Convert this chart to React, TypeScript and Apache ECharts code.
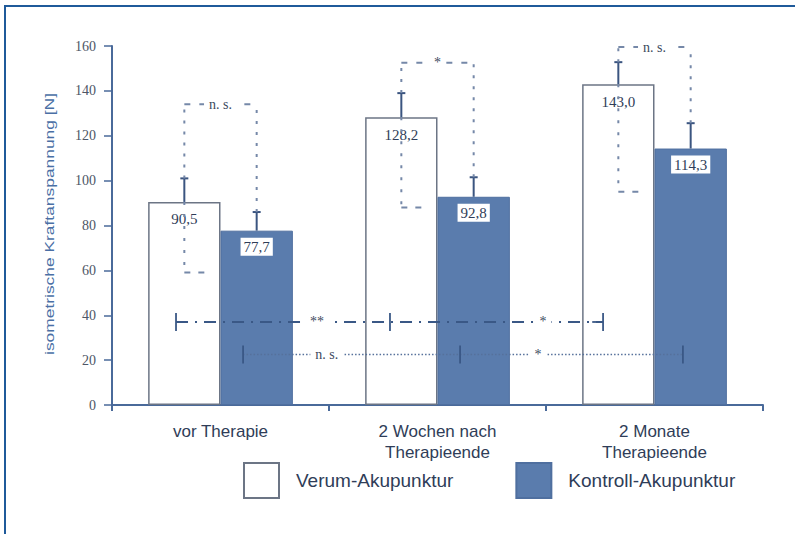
import React, { useEffect, useRef } from 'react';
import * as echarts from 'echarts';

// Zeitpunkte und Gruppen
const categories = ['vor Therapie', '2 Wochen nach\nTherapieende', '2 Monate\nTherapieende'];
const seriesNames = ['Verum-Akupunktur', 'Kontroll-Akupunktur'];

// Mittelwerte der isometrischen Kraftanspannung [N]
const verumMeans = [90.5, 128.2, 143.0];
const kontrollMeans = [77.7, 92.8, 114.3];

// Streuung: obere Fehlerbalken und untere Grenze (Verum)
const verumUpper = [101, 139, 152.8];
const kontrollUpper = [86, 101.5, 125.6];
const verumLower = [59, 88, 95];

// Gruppenvergleich je Zeitpunkt
const groupBracketLevel = [134, 152.5, 159.5];
const groupBracketText = ['n. s.', '*', 'n. s.'];

// Verlaufsvergleiche über die Zeitpunkte
const verumTrendLevel = 37;
const verumTrendText = ['**', '*'];
const kontrollTrendLevel = 22.5;
const kontrollTrendText = ['n. s.', '*'];

// Achse
const yMin = 0;
const yMax = 160;
const yStep = 20;

// Lage innerhalb einer Kategorie (Kategoriebreite = 1)
const VERUM_POS = 1 / 3;
const KONTROLL_POS = 2 / 3;
const verumTrendAnchors = [0.295, 1.281, 2.263];
const verumTrendTextPos = [0.945, 1.986];
const kontrollTrendAnchors = [0.604, 1.604, 2.631];
const kontrollTrendTextPos = [0.99, 1.963];

const BLUE = '#5a7cad';
const DARK = '#3b5580';
const TEXT = '#2f3d58';

type Seg = { value: number[]; kind: string };
type Txt = { value: number[]; text: string; kind: string };

function buildSegments(): Seg[] {
  const segs: Seg[] = [];
  categories.forEach((_, i) => {
    const xv = i + VERUM_POS;
    const xk = i + KONTROLL_POS;
    // Fehlerbalken
    segs.push({ value: [xv, verumMeans[i], xv, verumUpper[i]], kind: 'whisker' });
    segs.push({ value: [xv, verumUpper[i], xv, verumUpper[i]], kind: 'cap' });
    segs.push({ value: [xk, kontrollMeans[i], xk, kontrollUpper[i]], kind: 'whisker' });
    segs.push({ value: [xk, kontrollUpper[i], xk, kontrollUpper[i]], kind: 'cap' });
    // Klammer Verum vs. Kontrolle
    segs.push({ value: [xv, verumUpper[i], xv, groupBracketLevel[i]], kind: 'upper' });
    segs.push({ value: [xk, kontrollUpper[i], xk, groupBracketLevel[i]], kind: 'upper' });
    segs.push({ value: [xv, groupBracketLevel[i], xk, groupBracketLevel[i]], kind: 'bracket' });
    // untere Streuung Verum
    segs.push({ value: [xv, verumMeans[i], xv, verumLower[i]], kind: 'lower' });
    segs.push({ value: [xv, verumLower[i], xv + 0.12, verumLower[i]], kind: 'lowerTick' });
  });
  // Verlauf Verum
  segs.push({
    value: [verumTrendAnchors[0], verumTrendLevel, verumTrendAnchors[2], verumTrendLevel],
    kind: 'trendV',
  });
  verumTrendAnchors.forEach((x) =>
    segs.push({ value: [x, verumTrendLevel, x, verumTrendLevel], kind: 'trendCap' })
  );
  segs.push({
    value: [verumTrendAnchors[0], verumTrendLevel, verumTrendAnchors[0] + 0.05, verumTrendLevel],
    kind: 'trendStub',
  });
  segs.push({
    value: [verumTrendAnchors[2] - 0.05, verumTrendLevel, verumTrendAnchors[2], verumTrendLevel],
    kind: 'trendStub',
  });
  // Verlauf Kontrolle
  segs.push({
    value: [kontrollTrendAnchors[0], kontrollTrendLevel, kontrollTrendAnchors[2], kontrollTrendLevel],
    kind: 'trendK',
  });
  kontrollTrendAnchors.forEach((x) =>
    segs.push({ value: [x, kontrollTrendLevel, x, kontrollTrendLevel], kind: 'trendCap' })
  );
  return segs;
}

function buildTexts(): Txt[] {
  const txts: Txt[] = [];
  categories.forEach((_, i) => {
    txts.push({
      value: [i + 0.5, groupBracketLevel[i]],
      text: groupBracketText[i],
      kind: 'bracket',
    });
  });
  verumTrendText.forEach((t, j) =>
    txts.push({ value: [verumTrendTextPos[j], verumTrendLevel], text: t, kind: 'trend' })
  );
  kontrollTrendText.forEach((t, j) =>
    txts.push({ value: [kontrollTrendTextPos[j], kontrollTrendLevel], text: t, kind: 'trend' })
  );
  return txts;
}

const segStyles: Record<string, any> = {
  whisker: { stroke: DARK, lineWidth: 2 },
  cap: { stroke: DARK, lineWidth: 2 },
  upper: { stroke: '#7588a8', lineWidth: 2, lineDash: [3, 8] },
  bracket: { stroke: '#7588a8', lineWidth: 2, lineDash: [6, 9] },
  lower: { stroke: '#7588a8', lineWidth: 2, lineDash: [3, 9] },
  lowerTick: { stroke: '#7588a8', lineWidth: 2, lineDash: [6, 8] },
  trendV: { stroke: '#3a5886', lineWidth: 1.8, lineDash: [12, 7, 2, 7] },
  trendStub: { stroke: '#3a5886', lineWidth: 1.8 },
  trendK: { stroke: '#56719b', lineWidth: 1.3, lineDash: [1.5, 2] },
  trendCap: { stroke: '#3a5886', lineWidth: 1.8 },
};

const fmt = (v: number) => v.toFixed(1).replace('.', ',');

export default function App() {
  const ref = useRef<HTMLDivElement>(null);

  useEffect(() => {
    if (!ref.current) return;
    const chart = echarts.init(ref.current, undefined, { renderer: 'svg' });
    const segments = buildSegments();
    const texts = buildTexts();

    const valueLabel = {
      show: true,
      position: 'insideTop',
      distance: 10,
      fontFamily: '"Liberation Serif", "DejaVu Serif", serif',
      fontSize: 15,
      color: TEXT,
      formatter: (p: any) => fmt(p.value),
    };

    chart.setOption({
      animation: false,
      backgroundColor: '#ffffff',
      grid: { left: 112, right: 32, top: 46, bottom: 129, containLabel: false },
      xAxis: [
        {
          type: 'category',
          data: categories,
          axisLine: { lineStyle: { color: '#4a6a9a', width: 2 } },
          axisTick: { show: true, length: 6, lineStyle: { color: '#4a6a9a', width: 2 } },
          axisLabel: {
            margin: 16,
            fontFamily: '"Liberation Sans", Arial, sans-serif',
            fontSize: 17,
            lineHeight: 21,
            color: TEXT,
          },
          splitLine: { show: false },
        },
        { type: 'value', min: 0, max: categories.length, show: false },
      ],
      yAxis: {
        type: 'value',
        min: yMin,
        max: yMax,
        interval: yStep,
        axisLine: { show: true, lineStyle: { color: '#4a6a9a', width: 2 } },
        axisTick: { show: true, length: 8, lineStyle: { color: '#4a6a9a', width: 1.5 } },
        axisLabel: {
          margin: 16,
          fontFamily: '"Liberation Serif", "DejaVu Serif", serif',
          fontSize: 14,
          color: '#4d5666',
        },
        splitLine: { show: false },
      },
      legend: {
        left: 243,
        top: 462,
        padding: 0,
        icon: 'rect',
        itemWidth: 35,
        itemHeight: 35,
        itemGap: 62,
        data: seriesNames,
        textStyle: {
          fontFamily: '"Liberation Sans", Arial, sans-serif',
          fontSize: 19,
          color: TEXT,
          padding: [0, 0, 0, 12],
        },
      },
      series: [
        {
          name: seriesNames[0],
          type: 'bar',
          data: verumMeans,
          barGap: '0%',
          barCategoryGap: '33.3%',
          itemStyle: { color: '#ffffff', borderColor: '#6c7585', borderWidth: 1.5 },
          label: valueLabel,
          z: 2,
        },
        {
          name: seriesNames[1],
          type: 'bar',
          data: kontrollMeans,
          barGap: '0%',
          barCategoryGap: '33.3%',
          itemStyle: { color: BLUE, borderColor: '#4f6f9f', borderWidth: 1 },
          label: { ...valueLabel, backgroundColor: '#ffffff', padding: [2, 3, 1, 3], distance: 7 },
          z: 2,
        },
        {
          type: 'custom',
          xAxisIndex: 1,
          yAxisIndex: 0,
          silent: true,
          z: 5,
          encode: { x: [0, 2], y: [1, 3] },
          data: segments.map((s) => s.value),
          renderItem: (params: any, api: any) => {
            const seg = segments[params.dataIndex];
            const p1 = api.coord([api.value(0), api.value(1)]);
            const p2 = api.coord([api.value(2), api.value(3)]);
            let shape;
            if (seg.kind === 'cap') {
              shape = { x1: p1[0] - 4, y1: p1[1], x2: p1[0] + 4, y2: p1[1] };
            } else if (seg.kind === 'trendCap') {
              shape = { x1: p1[0], y1: p1[1] - 9, x2: p1[0], y2: p1[1] + 9 };
            } else {
              shape = { x1: p1[0], y1: p1[1], x2: p2[0], y2: p2[1] };
            }
            return { type: 'line', shape, style: { ...segStyles[seg.kind], fill: null } };
          },
        },
        {
          type: 'custom',
          xAxisIndex: 1,
          yAxisIndex: 0,
          silent: true,
          z: 6,
          encode: { x: 0, y: 1 },
          data: texts.map((t) => t.value),
          renderItem: (params: any, api: any) => {
            const t = texts[params.dataIndex];
            const p = api.coord([api.value(0), api.value(1)]);
            return {
              type: 'text',
              x: p[0],
              y: p[1],
              style: {
                text: t.text,
                fill: '#3d4a60',
                font: '14px "Liberation Serif", "DejaVu Serif", serif',
                align: 'center',
                verticalAlign: 'middle',
                backgroundColor: '#ffffff',
                padding: [1, 5],
              },
            };
          },
        },
      ],
      graphic: [
        {
          type: 'rect',
          silent: true,
          shape: { x: 5, y: 6, width: 800, height: 540 },
          style: { fill: 'none', stroke: '#1f5a9a', lineWidth: 2 },
        },
        {
          type: 'text',
          silent: true,
          x: 50,
          y: 224,
          rotation: Math.PI / 2,
          scaleX: 1.45,
          style: {
            text: 'isometrische Kraftanspannung [N]',
            fill: '#4a6fa5',
            font: '12px "Liberation Sans", Arial, sans-serif',
            align: 'center',
            verticalAlign: 'middle',
          },
        },
      ],
    });
    return () => chart.dispose();
  }, []);

  return (
    <div
      ref={ref}
      style={{ position: 'absolute', left: 0, top: 0, width: 795, height: 534, background: '#fff' }}
    />
  );
}
